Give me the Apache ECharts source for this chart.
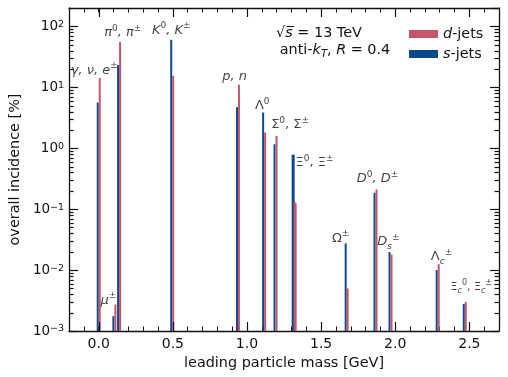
<!DOCTYPE html>
<html>
<head>
<meta charset="utf-8">
<script src="https://cdn.jsdelivr.net/npm/echarts@6/dist/echarts.min.js"></script>
<style>
html,body{margin:0;padding:0;background:#fff;}
#chart{width:508px;height:377px;}
</style>
</head>
<body>
<div id="chart"></div>
<script>
// leading particle masses [GeV] and incidence [%]
var masses = [0.0, 0.1057, 0.1373, 0.4957, 0.9392, 1.1157, 1.1926, 1.3149, 1.3217, 1.6725, 1.8671, 1.9683, 2.2865, 2.4691];
var dJets  = [14.2, 0.00272, 55.4, 15.5, 11.0, 1.81, 1.59, 0.13, 0.125, 0.00498, 0.211, 0.018, 0.0125, 0.0030];
var sJets  = [5.6, 0.00175, 23.2, 60.4, 4.7, 3.85, 1.16, 0.78, 0.78, 0.0274, 0.186, 0.0197, 0.0100, 0.00278];

// particle labels
var noteX = [-0.03, 0.065, 0.162, 0.49, 0.916, 1.103, 1.291, 1.456, 1.632, 1.88, 1.954, 2.312, 2.513];
var noteY = [18.9, 0.0032, 77.8, 86, 14.7, 4.96, 2.42, 0.579, 0.0331, 0.313, 0.0291, 0.0165, 0.0053];
var noteText = [
	'{i|γ, ν, e}{sup|±}',
	'{i|μ}{sup|±}',
	'{i|π}{sup|0}{i|, π}{sup|±}',
	'{i|K}{sup|0}{i|, K}{sup|±}',
	'{i|p, n}',
	'{r|Λ}{sup|0}',
	'{r|Σ}{sup|0}{r|, Σ}{sup|±}',
	'{r|Ξ}{sup|0}{r|, Ξ}{sup|±}',
	'{r|Ω}{sup|±}',
	'{i|D}{sup|0}{i|, D}{sup|±}',
	'{i|D}{sub|s}{sup|±}',
	'{r|Λ}{sub|c}{sup|±}',
	'{rs|Ξ}{subs|c}{sups|0}{rs|, Ξ}{subs|c}{sups|±}'
];

var xMajor = [0, 0.5, 1.0, 1.5, 2.0, 2.5];
var xMin = -0.2, xMax = 2.7, yMin = 0.001, yMax = 200;

var colD = '#c4566a', colS = '#0b4a8e', axisCol = '#111';
var font = 'DejaVu Sans';

// tick list: [x, y, length, kind]  kind 0: x major (top+bottom), 1: y minor (left+right)
var tickData = [];
xMajor.forEach(function(v){ tickData.push([v, yMax, 9, 0]) });
for(var n=-3; n<=2; n++){
	for(var k=2; k<=9; k++){
		var v = k*Math.pow(10, n);
		if(v < yMax) tickData.push([xMin, v, 4.5, 1]);
	}
}

var rich = {
	i: {fontFamily: font, fontStyle: 'italic', fontSize: 13, lineHeight: 18, color: '#111'},
	r: {fontFamily: font, fontSize: 13, lineHeight: 18, color: '#111'},
	sup: {fontFamily: font, fontSize: 9, lineHeight: 11, verticalAlign: 'top', color: '#111'},
	sub: {fontFamily: font, fontStyle: 'italic', fontSize: 9, lineHeight: 11, verticalAlign: 'bottom', color: '#111'},
	rs: {fontFamily: font, fontSize: 11, lineHeight: 16, color: '#111'},
	sups: {fontFamily: font, fontSize: 8, lineHeight: 9, verticalAlign: 'top', color: '#111'},
	subs: {fontFamily: font, fontStyle: 'italic', fontSize: 8, lineHeight: 9, verticalAlign: 'bottom', color: '#111'}
};

function barData(vals){
	return masses.map(function(m, i){ return [m, vals[i]] });
}
function barRender(shift){
	return function(params, api){
		var top = api.coord([api.value(0), api.value(1)]);
		var base = api.coord([api.value(0), yMin]);
		return {
			type: 'rect',
			shape: {x: top[0]+shift, y: top[1], width: 2, height: base[1]-top[1]},
			style: {fill: api.visual('color')}
		};
	}
}
function snap(p){ return Math.round(p) + 0.5 }
function tickRender(params, api){
	var len = api.value(2);
	var st = {stroke: axisCol, lineWidth: 1.2};
	if(api.value(3) === 1){
		var l = api.coord([xMin, api.value(1)]), r = api.coord([xMax, api.value(1)]);
		var y = snap(l[1]);
		return {type: 'group', children: [
			{type: 'line', shape: {x1: l[0], y1: y, x2: l[0]+len, y2: y}, style: st},
			{type: 'line', shape: {x1: r[0], y1: y, x2: r[0]-len, y2: y}, style: st}
		]};
	}
	var tp = api.coord([api.value(0), yMax]), bt = api.coord([api.value(0), yMin]);
	var x = snap(tp[0]);
	return {type: 'group', children: [
		{type: 'line', shape: {x1: x, y1: tp[1], x2: x, y2: tp[1]+len}, style: st},
		{type: 'line', shape: {x1: x, y1: bt[1], x2: x, y2: bt[1]-len}, style: st}
	]};
}

var chart = echarts.init(document.getElementById('chart'));

var frameLine = {show: true, onZero: false, lineStyle: {color: axisCol, width: 1.3}};
var xMinorTick = {show: true, inside: true, length: 4.5, lineStyle: {color: axisCol, width: 1}};
var yMajorTick = {show: true, inside: true, length: 9, lineStyle: {color: axisCol, width: 1.2}};

var options = {
	animation: false,
	backgroundColor: '#fff',
	grid: {left: 67, right: 9, top: 8, bottom: 46},
	legend: {
		data: ['d-jets', 's-jets'],
		left: 404, top: 22, orient: 'vertical',
		itemWidth: 29, itemHeight: 8, itemGap: 6,
		icon: 'rect',
		formatter: function(name){ return '{i|' + name.charAt(0) + '}-jets' },
		textStyle: {
			fontFamily: font, fontSize: 14.4, color: '#111',
			rich: {i: {fontFamily: font, fontStyle: 'italic', fontSize: 14.4, color: '#111'}}
		}
	},
	xAxis: [{
		type: 'value', min: xMin, max: xMax, interval: 0.1, position: 'bottom',
		axisLine: frameLine, axisTick: xMinorTick, splitLine: {show: false},
		name: 'leading particle mass [GeV]', nameLocation: 'middle', nameGap: 21,
		nameTextStyle: {fontFamily: font, fontSize: 14.4, color: '#111'},
		axisLabel: {
			margin: 6, fontFamily: font, fontSize: 14, color: '#111',
			formatter: function(v){
				var r = Math.round(v*10);
				return (r % 5 === 0) ? (r/10).toFixed(1) : '';
			}
		}
	}, {
		type: 'value', min: xMin, max: xMax, interval: 0.1, position: 'top',
		axisLine: frameLine, axisTick: xMinorTick, axisLabel: {show: false}, splitLine: {show: false}
	}],
	yAxis: [{
		type: 'log', logBase: 10, min: yMin, max: yMax, position: 'left',
		axisLine: frameLine, axisTick: yMajorTick, splitLine: {show: false},
		name: 'overall incidence [%]', nameLocation: 'middle', nameGap: 40,
		nameTextStyle: {fontFamily: font, fontSize: 14.4, color: '#111'},
		axisLabel: {
			margin: 5, fontFamily: font, fontSize: 13.5, color: '#111', showMaxLabel: false,
			formatter: function(v){
				var e = Math.round(Math.log(v)/Math.LN10);
				return '10{sup|' + (e < 0 ? '\u2212' + (-e) : e) + '}';
			},
			rich: {sup: {fontFamily: font, fontSize: 9.5, lineHeight: 10, verticalAlign: 'top', color: '#111'}}
		}
	}, {
		type: 'log', logBase: 10, min: yMin, max: yMax, position: 'right',
		axisLine: frameLine, axisTick: yMajorTick, axisLabel: {show: false}, splitLine: {show: false}
	}],
	graphic: [
		{type: 'text', x: 319, y: 33, style: {
			text: '√{i|s\u0305} = 13 TeV', align: 'center', verticalAlign: 'middle',
			font: '14.4px "DejaVu Sans"', fill: '#111',
			rich: {i: {fontFamily: font, fontStyle: 'italic', fontSize: 14.4}}
		}},
		{type: 'text', x: 335, y: 50, style: {
			text: 'anti-{i|k}{sub|T}, {i|R} = 0.4', align: 'center', verticalAlign: 'middle',
			font: '14.4px "DejaVu Sans"', fill: '#111',
			rich: {
				i: {fontFamily: font, fontStyle: 'italic', fontSize: 14.4, lineHeight: 18},
				sub: {fontFamily: font, fontStyle: 'italic', fontSize: 10, lineHeight: 11, verticalAlign: 'bottom'}
			}
		}}
	],
	series: [
		{name: 's-jets', type: 'custom', color: colS, renderItem: barRender(-2), data: barData(sJets), z: 2},
		{name: 'd-jets', type: 'custom', color: colD, renderItem: barRender(0), data: barData(dJets), z: 2},
		{
			name: 'notes', type: 'scatter', symbolSize: 0, silent: true, z: 4,
			data: noteX.map(function(x, i){ return [x, noteY[i], noteText[i]] }),
			label: {
				show: true, position: 'inside',
				formatter: function(p){ return p.data[2] },
				rich: rich
			}
		},
		{
			name: 'ticks', type: 'custom', renderItem: tickRender, silent: true,
			clip: false, z: 10,
			data: tickData
		}
	]
};

chart.setOption(options);
</script>
</body>
</html>
